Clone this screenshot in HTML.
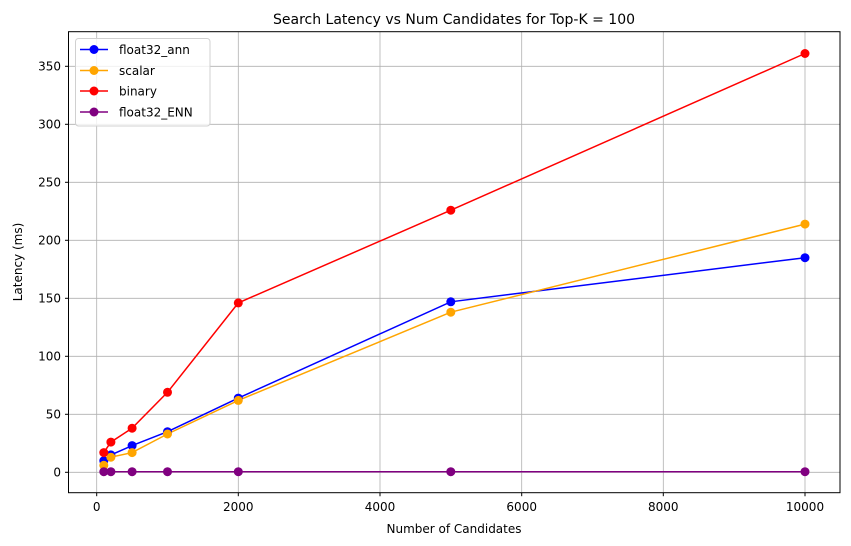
<!DOCTYPE html>
<html><head><meta charset="utf-8"><style>body{margin:0;background:#fff}svg{display:block;font-family:"DejaVu Sans","Liberation Sans",sans-serif}</style></head>
<body>
<svg width="851" height="546" xmlns="http://www.w3.org/2000/svg">
<rect width="851" height="546" fill="#fff"/>
<g stroke="#b0b0b0" stroke-width="0.8">
<line x1="96.7" y1="31.7" x2="96.7" y2="492.7"/><line x1="238.3" y1="31.7" x2="238.3" y2="492.7"/><line x1="380" y1="31.7" x2="380" y2="492.7"/><line x1="521.7" y1="31.7" x2="521.7" y2="492.7"/><line x1="663.3" y1="31.7" x2="663.3" y2="492.7"/><line x1="805" y1="31.7" x2="805" y2="492.7"/>
<line x1="68.5" y1="472.3" x2="840" y2="472.3"/><line x1="68.5" y1="414.3" x2="840" y2="414.3"/><line x1="68.5" y1="356.3" x2="840" y2="356.3"/><line x1="68.5" y1="298.3" x2="840" y2="298.3"/><line x1="68.5" y1="240.3" x2="840" y2="240.3"/><line x1="68.5" y1="182.3" x2="840" y2="182.3"/><line x1="68.5" y1="124.3" x2="840" y2="124.3"/><line x1="68.5" y1="66.3" x2="840" y2="66.3"/>
</g>
<rect x="68.5" y="31.7" width="771.5" height="461" fill="none" stroke="#000" stroke-width="1"/>
<g stroke="#000"><line x1="96.7" y1="492.7" x2="96.7" y2="496.2"/><line x1="238.3" y1="492.7" x2="238.3" y2="496.2"/><line x1="380" y1="492.7" x2="380" y2="496.2"/><line x1="521.7" y1="492.7" x2="521.7" y2="496.2"/><line x1="663.3" y1="492.7" x2="663.3" y2="496.2"/><line x1="805" y1="492.7" x2="805" y2="496.2"/>
<line x1="65" y1="472.3" x2="68.5" y2="472.3"/><line x1="65" y1="414.3" x2="68.5" y2="414.3"/><line x1="65" y1="356.3" x2="68.5" y2="356.3"/><line x1="65" y1="298.3" x2="68.5" y2="298.3"/><line x1="65" y1="240.3" x2="68.5" y2="240.3"/><line x1="65" y1="182.3" x2="68.5" y2="182.3"/><line x1="65" y1="124.3" x2="68.5" y2="124.3"/><line x1="65" y1="66.3" x2="68.5" y2="66.3"/></g>
<g font-size="12" fill="#000" text-anchor="middle">
<text x="96.7" y="511">0</text><text x="238.3" y="511">2000</text><text x="380" y="511">4000</text><text x="521.7" y="511">6000</text><text x="663.3" y="511">8000</text><text x="805" y="511">10000</text>
</g>
<g font-size="12" fill="#000" text-anchor="end">
<text x="61" y="476.5">0</text><text x="61" y="418.5">50</text><text x="61" y="360.5">100</text><text x="61" y="302.5">150</text><text x="61" y="244.5">200</text><text x="61" y="186.5">250</text><text x="61" y="128.5">300</text><text x="61" y="70.5">350</text>
</g>
<text x="454" y="533" font-size="12" text-anchor="middle">Number of Candidates</text>
<text transform="translate(22,262) rotate(-90)" font-size="12" text-anchor="middle">Latency (ms)</text>
<text x="454" y="24" font-size="14" text-anchor="middle">Search Latency vs Num Candidates for Top-K = 100</text>
<g stroke-width="1.5" fill="none">
<polyline stroke="#0000ff" points="103.8,460.7 110.9,454.9 132.1,445.6 167.5,431.7 238.3,398.1 450.8,301.8 805,257.7"/>
<polyline stroke="#ffa500" points="103.8,465.3 110.9,457.2 132.1,452.6 167.5,434.0 238.3,400.4 450.8,312.2 805,224.1"/>
<polyline stroke="#ff0000" points="103.8,452.6 110.9,442.1 132.1,428.2 167.5,392.3 238.3,302.9 450.8,210.2 805,53.5"/>
<polyline stroke="#800080" points="103.8,471.7 110.9,471.7 132.1,471.7 167.5,471.7 238.3,471.7 450.8,471.7 805,471.7"/>
</g>
<g fill="#0000ff"><circle cx="103.8" cy="460.7" r="4.5"/><circle cx="110.9" cy="454.9" r="4.5"/><circle cx="132.1" cy="445.6" r="4.5"/><circle cx="167.5" cy="431.7" r="4.5"/><circle cx="238.3" cy="398.1" r="4.5"/><circle cx="450.8" cy="301.8" r="4.5"/><circle cx="805" cy="257.7" r="4.5"/></g>
<g fill="#ffa500"><circle cx="103.8" cy="465.3" r="4.5"/><circle cx="110.9" cy="457.2" r="4.5"/><circle cx="132.1" cy="452.6" r="4.5"/><circle cx="167.5" cy="434.0" r="4.5"/><circle cx="238.3" cy="400.4" r="4.5"/><circle cx="450.8" cy="312.2" r="4.5"/><circle cx="805" cy="224.1" r="4.5"/></g>
<g fill="#ff0000"><circle cx="103.8" cy="452.6" r="4.5"/><circle cx="110.9" cy="442.1" r="4.5"/><circle cx="132.1" cy="428.2" r="4.5"/><circle cx="167.5" cy="392.3" r="4.5"/><circle cx="238.3" cy="302.9" r="4.5"/><circle cx="450.8" cy="210.2" r="4.5"/><circle cx="805" cy="53.5" r="4.5"/></g>
<g fill="#800080"><circle cx="103.8" cy="471.7" r="4.5"/><circle cx="110.9" cy="471.7" r="4.5"/><circle cx="132.1" cy="471.7" r="4.5"/><circle cx="167.5" cy="471.7" r="4.5"/><circle cx="238.3" cy="471.7" r="4.5"/><circle cx="450.8" cy="471.7" r="4.5"/><circle cx="805" cy="471.7" r="4.5"/></g>
<rect x="75.5" y="38.5" width="134.5" height="87.5" rx="3" fill="#fff" fill-opacity="0.8" stroke="#d0d0d0"/>
<g stroke-width="1.5"><line x1="80" y1="49.5" x2="108" y2="49.5" stroke="#0000ff"/><line x1="80" y1="70.5" x2="108" y2="70.5" stroke="#ffa500"/><line x1="80" y1="91" x2="108" y2="91" stroke="#ff0000"/><line x1="80" y1="112" x2="108" y2="112" stroke="#800080"/></g>
<circle cx="94" cy="49.5" r="4.5" fill="#0000ff"/><circle cx="94" cy="70.5" r="4.5" fill="#ffa500"/><circle cx="94" cy="91" r="4.5" fill="#ff0000"/><circle cx="94" cy="112" r="4.5" fill="#800080"/>
<g font-size="12" fill="#000"><text x="119" y="54">float32_ann</text><text x="119" y="75">scalar</text><text x="119" y="95.5">binary</text><text x="119" y="116.5">float32_ENN</text></g>
</svg>
</body></html>
